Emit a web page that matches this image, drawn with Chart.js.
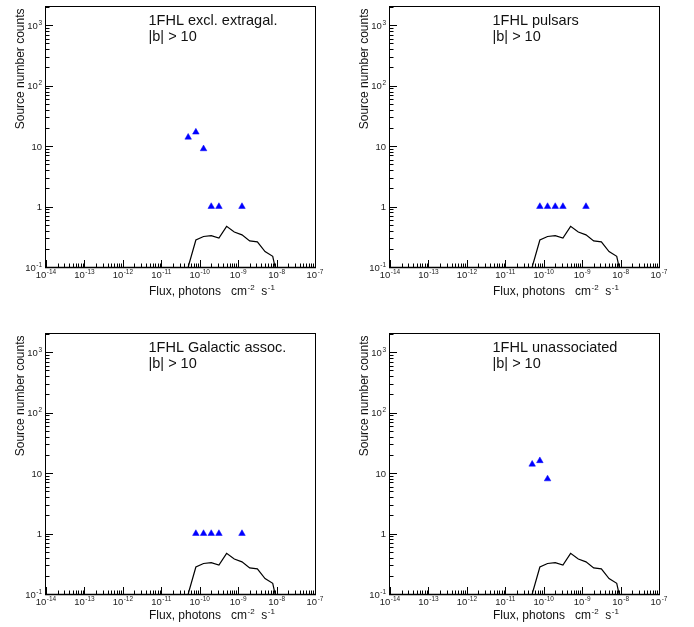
<!DOCTYPE html>
<html>
<head>
<meta charset="utf-8">
<script src="https://cdn.jsdelivr.net/npm/chart.js@4.4.1/dist/chart.umd.min.js"></script>
<style>
  html, body { margin: 0; padding: 0; background: #fff; }
  #wrap { position: relative; width: 694px; height: 627px; overflow: hidden; }
  #wrap canvas { position: absolute; }
</style>
</head>
<body>
<div id="wrap">
  <canvas id="c0" width="347" height="300"></canvas>
  <canvas id="c1" width="347" height="300"></canvas>
  <canvas id="c2" width="347" height="300"></canvas>
  <canvas id="c3" width="347" height="300"></canvas>
</div>
<script>
// panel captions
const panelTitles = ["1FHL excl. extragal.", "1FHL pulsars", "1FHL Galactic assoc.", "1FHL unassociated"];
const cutLabel = "|b| > 10";
const yAxisTitle = "Source number counts";

// axis ticks
const xTickExponents = [-14, -13, -12, -11, -10, -9, -8, -7];
const yTickValues = [0.1, 1, 10, 100, 1000];
const yTickLabels = [["10", "-1"], ["1", ""], ["10", ""], ["10", "2"], ["10", "3"]];
const xMin = 1e-14, xMax = 1e-7, yMin = 0.1, yMax = 2000;

// reference curve (log10 flux, counts), same in every panel
const curveLogFlux = [-10.3, -10.1, -9.9, -9.7, -9.5, -9.3, -9.1, -8.9, -8.7, -8.5, -8.3, -8.1, -7.9];
const curveCounts = [0.1, 0.28, 0.32, 0.33, 0.30, 0.47, 0.38, 0.34, 0.27, 0.26, 0.18, 0.15, 0.04];

// source counts per class
const exclExtragalLogFlux = [-10.3, -10.1, -9.9, -9.7, -9.5, -8.9];
const exclExtragalCounts = [14, 17, 9, 1, 1, 1];
const pulsarLogFlux = [-10.1, -9.9, -9.7, -9.5, -8.9];
const pulsarCounts = [1, 1, 1, 1, 1];
const galacticLogFlux = [-10.1, -9.9, -9.7, -9.5, -8.9];
const galacticCounts = [1, 1, 1, 1, 1];
const unassocLogFlux = [-10.3, -10.1, -9.9];
const unassocCounts = [14, 16, 8];

const pointSets = [
  [exclExtragalLogFlux, exclExtragalCounts],
  [pulsarLogFlux, pulsarCounts],
  [galacticLogFlux, galacticCounts],
  [unassocLogFlux, unassocCounts]
];

const layout = [
  { left: 0, top: 0, titleDrop: 28 },
  { left: 344, top: 0, titleDrop: 28 },
  { left: 0, top: 327, titleDrop: 25 },
  { left: 344, top: 327, titleDrop: 25 }
];

const FONT = '"Liberation Sans", Arial, Helvetica, sans-serif';

function toXY(logs, vals) {
  return logs.map((l, i) => ({ x: Math.pow(10, l), y: vals[i] }));
}

// text with an optional superscript
function supText(ctx, base, exp, x, y, align, size, supSize, rise) {
  ctx.font = size + "px " + FONT;
  const wb = ctx.measureText(base).width;
  ctx.font = supSize + "px " + FONT;
  const we = exp ? ctx.measureText(exp).width : 0;
  const total = wb + (exp ? we + 0.5 : 0);
  let x0 = x;
  if (align === "center") x0 = x - total / 2;
  if (align === "right") x0 = x - total;
  ctx.textAlign = "left";
  ctx.textBaseline = "alphabetic";
  ctx.font = size + "px " + FONT;
  ctx.fillText(base, x0, y);
  if (exp) {
    ctx.font = supSize + "px " + FONT;
    ctx.fillText(exp, x0 + wb + 0.5, y - rise);
  }
  return x0 + total;
}

const rootFrame = {
  id: "rootFrame",
  afterDraw(chart, args, opts) {
    const ctx = chart.ctx, a = chart.chartArea;
    const xs = chart.scales.x, ys = chart.scales.y;
    ctx.save();
    ctx.strokeStyle = "#000";
    ctx.fillStyle = "#000";

    // frame
    ctx.lineWidth = 1;
    ctx.strokeRect(a.left - 0.5, a.top - 0.5, a.right - a.left + 1, a.bottom - a.top + 1);
    ctx.lineWidth = 1.6;
    ctx.beginPath();
    ctx.moveTo(a.left - 1, a.bottom + 0.5);
    ctx.lineTo(a.right + 1, a.bottom + 0.5);
    ctx.stroke();

    // x ticks, inside
    ctx.lineWidth = 1;
    ctx.beginPath();
    xTickExponents.forEach(n => {
      for (let k = 1; k <= 9; k++) {
        const v = k * Math.pow(10, n);
        if (v > xMax * 1.0001) break;
        const px = Math.round(xs.getPixelForValue(v)) + 0.5;
        const len = k === 1 ? 7 : 3.5;
        ctx.moveTo(px, a.bottom);
        ctx.lineTo(px, a.bottom - len);
      }
    });
    // y ticks, inside
    for (let n = -1; n <= 3; n++) {
      for (let k = 1; k <= 9; k++) {
        const v = k * Math.pow(10, n);
        if (v > yMax) break;
        const py = Math.round(ys.getPixelForValue(v)) + 0.5;
        const len = k === 1 ? 7 : 3.5;
        ctx.moveTo(a.left, py);
        ctx.lineTo(a.left + len, py);
      }
    }
    ctx.stroke();

    // tick labels
    ctx.fillStyle = "#222";
    xTickExponents.forEach(n => {
      const px = xs.getPixelForValue(Math.pow(10, n));
      supText(ctx, "10", String(n), px, a.bottom + 10.5, "center", 9.5, 6.5, 4);
    });
    yTickValues.forEach((v, i) => {
      const py = ys.getPixelForValue(v);
      supText(ctx, yTickLabels[i][0], yTickLabels[i][1], a.left - 4, py + 3.5, "right", 9.5, 6.5, 4);
    });

    // axis titles
    ctx.fillStyle = "#111";
    let x = a.left + 103;
    const yb = a.bottom + opts.titleDrop;
    x = supText(ctx, "Flux, photons   cm", "-2", x, yb, "left", 12, 8, 5);
    supText(ctx, "  s", "-1", x, yb, "left", 12, 8, 5);

    ctx.save();
    ctx.translate(23.5, a.top + 1.5);
    ctx.rotate(-Math.PI / 2);
    ctx.font = "12px " + FONT;
    ctx.textAlign = "right";
    ctx.textBaseline = "alphabetic";
    ctx.fillText(yAxisTitle, 0, 0);
    ctx.restore();

    // panel caption
    ctx.font = "14.5px " + FONT;
    ctx.textAlign = "left";
    ctx.fillText(opts.caption, a.left + 102.5, a.top + 17.5);
    ctx.fillText(cutLabel, a.left + 102.5, a.top + 33.5);
    ctx.restore();
  }
};

layout.forEach((L, i) => {
  const cv = document.getElementById("c" + i);
  cv.style.left = L.left + "px";
  cv.style.top = L.top + "px";
  new Chart(cv.getContext("2d"), {
    type: "line",
    data: {
      datasets: [
        {
          data: toXY(curveLogFlux, curveCounts),
          borderColor: "#000",
          borderWidth: 1.2,
          pointRadius: 0,
          tension: 0,
          fill: false
        },
        {
          data: toXY(pointSets[i][0], pointSets[i][1]),
          showLine: false,
          pointStyle: "triangle",
          pointRadius: 3.8,
          pointBackgroundColor: "#0000ff",
          pointBorderColor: "#0000ff",
          pointBorderWidth: 0.5
        }
      ]
    },
    options: {
      responsive: false,
      animation: false,
      events: [],
      layout: { padding: { left: 46, right: 32, top: 7, bottom: 33 } },
      plugins: {
        legend: { display: false },
        tooltip: { enabled: false },
        rootFrame: { caption: panelTitles[i], titleDrop: L.titleDrop }
      },
      scales: {
        x: { type: "logarithmic", min: xMin, max: xMax, display: false },
        y: { type: "logarithmic", min: yMin, max: yMax, display: false }
      }
    },
    plugins: [rootFrame]
  });
});
</script>
</body>
</html>
